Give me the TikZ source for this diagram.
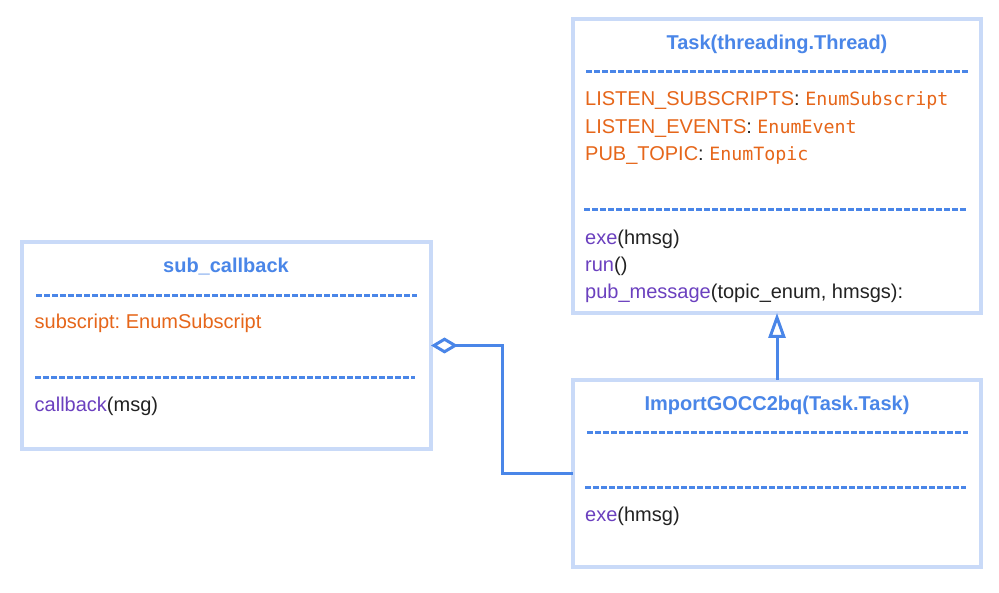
\documentclass[tikz,border=0pt]{standalone}
\usepackage{fontspec}
\setmainfont{Liberation Sans}
\newfontfamily\monof{DejaVu Sans Mono}
\usetikzlibrary{arrows.meta}
\definecolor{bordc}{HTML}{C9DAF8}
\definecolor{blueA}{HTML}{4A86E8}
\definecolor{orangeA}{HTML}{E6661A}
\definecolor{purpleA}{HTML}{6B40BF}
\definecolor{textA}{HTML}{222222}
\frenchspacing
\begin{document}
\begin{tikzpicture}[x=1pt,y=-1pt,
  box/.style={draw=bordc,line width=4.5pt,fill=white,inner sep=0,outer sep=0,anchor=north west},
  txt/.style={inner sep=0,anchor=base west,text=textA,font=\fontsize{20}{24}\selectfont\frenchspacing},
  ttl/.style={inner sep=0,anchor=base,text=blueA,font=\fontsize{20}{24}\selectfont\bfseries},
  dline/.style={draw=blueA,line width=3pt,dash pattern=on 6pt off 2pt},
  conn/.style={draw=blueA,line width=3pt},
]
\useasboundingbox (0,0) rectangle (999,593);
\fill[white] (0,0) rectangle (999,593);

% Task box
\node[box,minimum width=408pt,minimum height=294pt] (task) at (573,19) {};
\node[ttl] (taskT) at (777,50) {Task(threading.Thread)};
\draw[dline] (586,72) -- (968,72);
\node[txt] (ta1) at (585,105.5) {\textcolor{orangeA}{LISTEN\_SUBSCRIPTS}: \textcolor{orangeA}{\monof\fontsize{18.3}{22}\selectfont EnumSubscript}};
\node[txt] (ta2) at (585,133.2) {\textcolor{orangeA}{LISTEN\_EVENTS}: \textcolor{orangeA}{\monof\fontsize{18.3}{22}\selectfont EnumEvent}};
\node[txt] (ta3) at (585,161) {\textcolor{orangeA}{PUB\_TOPIC}: \textcolor{orangeA}{\monof\fontsize{18.3}{22}\selectfont EnumTopic}};
\draw[dline] (584,210) -- (966,210);
\node[txt] (tm1) at (585,244.5) {\textcolor{purpleA}{exe}(hmsg)};
\node[txt] (tm2) at (585,271.5) {\textcolor{purpleA}{run}()};
\node[txt] (tm3) at (585,299) {\textcolor{purpleA}{pub\_message}(topic\_enum, hmsgs):};

% sub_callback box
\node[box,minimum width=409pt,minimum height=207pt] (sub) at (22,242) {};
\node[ttl] (subT) at (226,273) {sub\_callback};
\draw[dline] (36,295.5) -- (417,295.5);
\node[txt] (sa1) at (34.5,329) {\textcolor{orangeA}{subscript: EnumSubscript}};
\draw[dline] (35,378) -- (415,378);
\node[txt] (sm1) at (34.5,411.5) {\textcolor{purpleA}{callback}(msg)};

% ImportGOCC2bq box
\node[box,minimum width=408pt,minimum height=187pt] (imp) at (573,380) {};
\node[ttl] (impT) at (777,410.5) {ImportGOCC2bq(Task.Task)};
\draw[dline] (587,432.5) -- (968,432.5);
\draw[dline] (585,487.5) -- (966,487.5);
\node[txt] (im1) at (585,521.5) {\textcolor{purpleA}{exe}(hmsg)};

% connectors
\draw[conn,{Diamond[open,length=27pt,width=16pt,fill=white]}-] (sub.east) -- ++(71,0) |- (imp.west);
\draw[conn,-{Triangle[open,length=25pt,width=17pt,fill=white]}] (imp.north) -- (task.south);
\end{tikzpicture}
\end{document}
